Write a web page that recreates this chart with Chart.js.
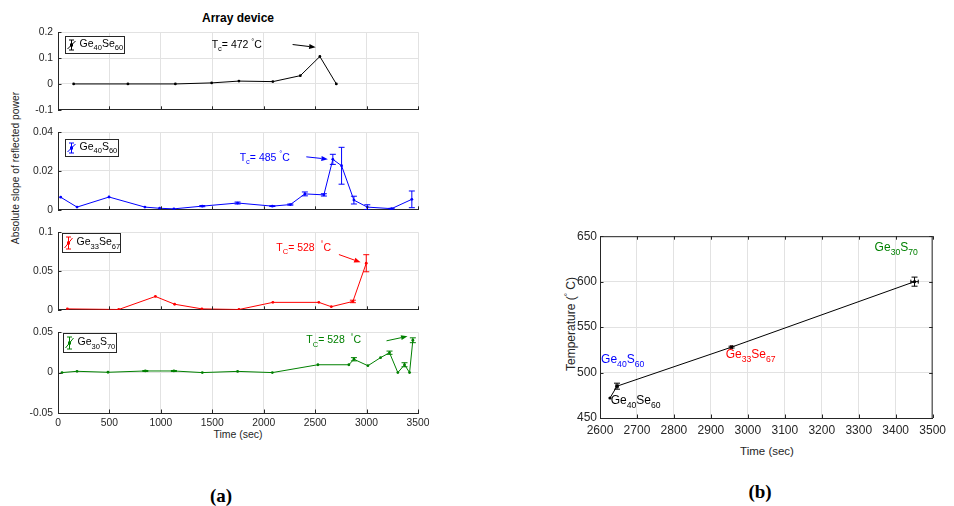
<!DOCTYPE html>
<html>
<head>
<meta charset="utf-8">
<script src="https://cdn.jsdelivr.net/npm/chart.js@4.4.0/dist/chart.umd.min.js"></script>
<style>
  body { margin: 0; background: #fff; width: 954px; height: 506px; position: relative; overflow: hidden;
         font-family: "Liberation Sans", Arial, Helvetica, sans-serif; color: #262626; }
  canvas { position: absolute; }
  .lbl { position: absolute; white-space: nowrap; transform: translate(-50%, -50%); line-height: 1; }
  .rot { transform: translate(-50%, -50%) rotate(-90deg); }
  .cap { font-family: "Liberation Serif", "DejaVu Serif", serif; font-weight: bold; font-size: 19px; color: #000; }
  sup { font-size: 70%; vertical-align: 0.45em; line-height: 0; }
</style>
</head>
<body>
<div class="lbl" style="left:238px;top:18px;font-size:12px;font-weight:bold;color:#000">Array device</div>
<div class="lbl rot" style="left:16px;top:168px;font-size:10.3px">Absolute slope of reflected power</div>
<div class="lbl" style="left:238px;top:434px;font-size:10.5px">Time (sec)</div>
<div class="lbl" style="left:767px;top:452px;font-size:11.5px">Time (sec)</div>
<div class="lbl rot" style="left:571px;top:324px;font-size:12px">Temperature (<sup>°</sup> C)</div>
<div class="lbl cap" style="left:221px;top:495px">(a)</div>
<div class="lbl cap" style="left:760px;top:491px">(b)</div>
<script>
// ---- panel (a): absolute slope of reflected power vs time ----
const geSe4060Time = [152, 680, 1141, 1494, 1759, 2089, 2356, 2546, 2706];
const geSe4060Slope = [0, 0, 0, 0.004, 0.011, 0.009, 0.032, 0.106, 0];
const geSe4060Err = [0, 0, 0, 0, 0, 0, 0, 0, 0];

const geS4060Time = [26, 185, 496, 845, 988, 1127, 1403, 1746, 2084, 2259, 2400, 2585, 2672, 2757, 2877, 3007, 3243, 3440];
const geS4060Slope = [0.0065, 0.0014, 0.0066, 0.0014, 0.0008, 0.0005, 0.0019, 0.0035, 0.0019, 0.0027, 0.0082, 0.0077, 0.026, 0.0227, 0.005, 0.0014, 0.0006, 0.0054];
const geS4060Err = [0, 0, 0, 0, 0, 0, 0.0003, 0.0005, 0.0002, 0.0003, 0.001, 0.0006, 0.0026, 0.0095, 0.002, 0.0012, 0.0002, 0.0043];

const geSe3367Time = [91, 590, 947, 1134, 1399, 1759, 2089, 2536, 2657, 2867, 2997];
const geSe3367Slope = [0.0012, 0.0004, 0.0172, 0.0072, 0.0012, 0.0004, 0.0096, 0.0096, 0.004, 0.0108, 0.06];
const geSe3367Err = [0, 0, 0, 0, 0, 0, 0, 0, 0, 0.0016, 0.011];

const geS3070Time = [39, 185, 486, 849, 1127, 1403, 1746, 2084, 2527, 2828, 2877, 3013, 3136, 3223, 3304, 3369, 3418, 3450];
const geS3070Slope = [0, 0.0016, 0.0004, 0.002, 0.002, 0, 0.0015, 0, 0.0097, 0.0097, 0.0165, 0.0085, 0.0185, 0.0246, 0, 0.0097, 0, 0.04];
const geS3070Err = [0, 0, 0, 0.0006, 0.0006, 0, 0, 0, 0, 0, 0.002, 0, 0, 0.002, 0, 0.0025, 0, 0.003];

const slopeYTicks = [
  { min: -0.1, max: 0.2, step: 0.1 },
  { min: 0, max: 0.04, step: 0.02 },
  { min: 0, max: 0.1, step: 0.05 },
  { min: -0.05, max: 0.05, step: 0.05 },
];

// critical temperature notes: text anchor and arrow in data units
const tcNotes = [
  { text: 'T_{c}= 472 ^{°}C', textAt: [1494, 0.1387], arrowFrom: [2281, 0.1523], arrowTo: [2505, 0.1416] },
  { text: 'T_{c}= 485 ^{°}C', textAt: [1766, 0.0253], arrowFrom: [2414, 0.0273], arrowTo: [2624, 0.0261] },
  { text: 'T_{C}= 528  ^{°}C', textAt: [2122, 0.0759], arrowFrom: [2731, 0.0712], arrowTo: [2942, 0.0612] },
  { text: 'T_{C}= 528  ^{°}C', textAt: [2414, 0.0361], arrowFrom: [3194, 0.0393], arrowTo: [3398, 0.0449] },
];

// ---- panel (b): transition temperature vs time ----
const alloyNames = ['Ge_{40}Se_{60}', 'Ge_{40}S_{60}', 'Ge_{33}Se_{67}', 'Ge_{30}S_{70}'];
const alloyColors = ['#000000', '#0000ff', '#ff0000', '#008000'];
const tcTime = [2627, 2646, 2956, 3451];
const tcTemp = [472, 485, 528, 600];
const tcTempErr = [0, 3.3, 1, 5];
const tcTimeErr = [0, 3, 2, 10];
const alloyLabelAt = [[2629, 465], [2603, 510.8], [2940, 515.6], [3343, 633.8]];

const FONT = '"Liberation Sans", Arial, Helvetica, sans-serif';
const AXIS = '#262626';
const GRID = '#e2e2e2';
Chart.defaults.font.family = FONT;
Chart.defaults.color = AXIS;

const fmt = (v) => String(+Number(v).toFixed(4));
const toPoints = (xs, ys) => xs.map((x, i) => ({ x: x, y: ys[i] }));

function parseTex(str) {
  const parts = [];
  const re = /([_^])\{([^}]*)\}|([^_^]+)/g;
  let m;
  while ((m = re.exec(str))) {
    if (m[1]) parts.push({ t: m[2], mode: m[1] === '_' ? 'sub' : 'sup' });
    else parts.push({ t: m[3], mode: 'base' });
  }
  return parts;
}

function drawTex(ctx, str, x, y, size, color) {
  let cx = x;
  ctx.fillStyle = color;
  ctx.textBaseline = 'alphabetic';
  ctx.textAlign = 'left';
  parseTex(str).forEach((p) => {
    const s = p.mode === 'base' ? size : size * 0.72;
    const dy = p.mode === 'sub' ? size * 0.32 : p.mode === 'sup' ? -size * 0.42 : 0;
    ctx.font = s + 'px ' + FONT;
    ctx.fillText(p.t, cx, y + dy);
    cx += ctx.measureText(p.t).width;
  });
}

function drawArrow(ctx, x1, y1, x2, y2, color) {
  const ang = Math.atan2(y2 - y1, x2 - x1);
  const len = 6.5, half = 2.5;
  ctx.strokeStyle = color;
  ctx.fillStyle = color;
  ctx.lineWidth = 1;
  ctx.beginPath();
  ctx.moveTo(x1, y1);
  ctx.lineTo(x2 - Math.cos(ang) * len, y2 - Math.sin(ang) * len);
  ctx.stroke();
  ctx.beginPath();
  ctx.moveTo(x2, y2);
  ctx.lineTo(x2 - Math.cos(ang) * len - Math.sin(ang) * half, y2 - Math.sin(ang) * len + Math.cos(ang) * half);
  ctx.lineTo(x2 - Math.cos(ang) * len + Math.sin(ang) * half, y2 - Math.sin(ang) * len - Math.cos(ang) * half);
  ctx.closePath();
  ctx.fill();
}

function overlay(p) {
  return {
    id: 'overlay',
    afterDraw(chart) {
      const { ctx, chartArea: a, scales } = chart;
      const xs = scales.x, ys = scales.y;
      ctx.save();
      // error bars
      chart.data.datasets.forEach((ds) => {
        ds.data.forEach((pt, i) => {
          const px = xs.getPixelForValue(pt.x), py = ys.getPixelForValue(pt.y);
          ctx.strokeStyle = ds.errColor;
          ctx.lineWidth = 1;
          const ye = ds.yErr ? ds.yErr[i] : 0;
          if (ye > 0) {
            const t = ys.getPixelForValue(pt.y + ye), b = ys.getPixelForValue(pt.y - ye);
            ctx.beginPath();
            ctx.moveTo(px, t); ctx.lineTo(px, b);
            ctx.moveTo(px - 3, t); ctx.lineTo(px + 3, t);
            ctx.moveTo(px - 3, b); ctx.lineTo(px + 3, b);
            ctx.stroke();
          }
          const xe = ds.xErr ? ds.xErr[i] : 0;
          if (xe > 0) {
            const l = xs.getPixelForValue(pt.x - xe), r = xs.getPixelForValue(pt.x + xe);
            ctx.beginPath();
            ctx.moveTo(l, py); ctx.lineTo(r, py);
            ctx.moveTo(l, py - 2); ctx.lineTo(l, py + 2);
            ctx.moveTo(r, py - 2); ctx.lineTo(r, py + 2);
            ctx.stroke();
          }
        });
      });
      // inward tick marks
      const tl = 3.5;
      ctx.strokeStyle = AXIS;
      ctx.lineWidth = 1;
      ctx.beginPath();
      xs.ticks.forEach((t) => {
        const px = Math.round(xs.getPixelForValue(t.value)) + 0.5;
        ctx.moveTo(px, a.bottom); ctx.lineTo(px, a.bottom - tl);
        if (p.box) { ctx.moveTo(px, a.top); ctx.lineTo(px, a.top + tl); }
      });
      ys.ticks.forEach((t) => {
        const py = Math.round(ys.getPixelForValue(t.value)) + 0.5;
        ctx.moveTo(a.left, py); ctx.lineTo(a.left + tl, py);
        if (p.box) { ctx.moveTo(a.right, py); ctx.lineTo(a.right - tl, py); }
      });
      ctx.stroke();
      if (p.box) {
        ctx.beginPath();
        ctx.moveTo(a.left, a.top + 0.5); ctx.lineTo(a.right, a.top + 0.5);
        ctx.moveTo(a.right - 0.5, a.top); ctx.lineTo(a.right - 0.5, a.bottom);
        ctx.stroke();
      }
      // text notes and arrows
      (p.notes || []).forEach((n) => {
        if (n.arrowFrom) {
          drawArrow(ctx, xs.getPixelForValue(n.arrowFrom[0]), ys.getPixelForValue(n.arrowFrom[1]),
            xs.getPixelForValue(n.arrowTo[0]), ys.getPixelForValue(n.arrowTo[1]), n.color);
        }
        drawTex(ctx, n.text, xs.getPixelForValue(n.textAt[0]), ys.getPixelForValue(n.textAt[1]), n.size, n.color);
      });
      // legend box
      if (p.legend) {
        const L = p.legend;
        const bx = Math.round(a.left + L.dx) + 0.5, by = Math.round(a.top + L.dy) + 0.5;
        ctx.fillStyle = '#fff';
        ctx.fillRect(bx, by, L.w, L.h);
        ctx.strokeStyle = AXIS;
        ctx.strokeRect(bx, by, L.w, L.h);
        const ix = bx + 6, top = by + 3.5, bot = by + L.h - 3.5, mid = by + L.h / 2;
        ctx.strokeStyle = L.color;
        ctx.beginPath();
        ctx.moveTo(ix, top); ctx.lineTo(ix, bot);
        ctx.moveTo(ix - 2.5, top); ctx.lineTo(ix + 2.5, top);
        ctx.moveTo(ix - 2.5, bot); ctx.lineTo(ix + 2.5, bot);
        ctx.moveTo(ix - 4, bot - 1); ctx.lineTo(ix + 4, top + 1);
        ctx.stroke();
        ctx.fillStyle = L.color;
        ctx.fillRect(ix - 1.5, mid - 1.5, 3, 3);
        drawTex(ctx, L.text, bx + 14, by + L.h * 0.62, 10.5, '#000');
      }
      ctx.restore();
    },
  };
}

function makePanel(p) {
  const aw = p.area.right - p.area.left, ah = p.area.bottom - p.area.top;
  const w = p.yWidth + aw + p.padRight;
  const h = p.padTop + ah + p.xHeight;
  const canvas = document.createElement('canvas');
  canvas.width = w; canvas.height = h;
  canvas.style.width = w + 'px'; canvas.style.height = h + 'px';
  canvas.style.left = (p.area.left - p.yWidth) + 'px';
  canvas.style.top = (p.area.top - p.padTop) + 'px';
  document.body.appendChild(canvas);

  new Chart(canvas, {
    type: 'scatter',
    data: { datasets: p.datasets },
    options: {
      responsive: false,
      animation: false,
      devicePixelRatio: 1,
      layout: { padding: { top: p.padTop, right: p.padRight, left: 0, bottom: 0 } },
      plugins: { legend: { display: false }, tooltip: { enabled: false } },
      scales: {
        x: {
          type: 'linear', min: p.x.min, max: p.x.max,
          ticks: { stepSize: p.x.step, display: p.showX, padding: p.xPad, maxRotation: 0, autoSkip: false,
                   font: { size: p.tickSize }, color: AXIS, callback: fmt },
          grid: { color: GRID, drawTicks: false },
          border: { color: AXIS, width: 1 },
          afterFit: (s) => { s.height = p.xHeight; },
        },
        y: {
          type: 'linear', min: p.y.min, max: p.y.max,
          ticks: { stepSize: p.y.step, padding: p.yPad, autoSkip: false,
                   font: { size: p.tickSize }, color: AXIS, callback: fmt },
          grid: { color: GRID, drawTicks: false },
          border: { color: AXIS, width: 1 },
          afterFit: (s) => { s.width = p.yWidth; },
        },
      },
    },
    plugins: [overlay(p)],
  });
}

const slopeSeries = [
  { name: 'Ge_{40}Se_{60}', color: '#000000', t: geSe4060Time, v: geSe4060Slope, e: geSe4060Err },
  { name: 'Ge_{40}S_{60}', color: '#0000ff', t: geS4060Time, v: geS4060Slope, e: geS4060Err },
  { name: 'Ge_{33}Se_{67}', color: '#ff0000', t: geSe3367Time, v: geSe3367Slope, e: geSe3367Err },
  { name: 'Ge_{30}S_{70}', color: '#008000', t: geS3070Time, v: geS3070Slope, e: geS3070Err },
];
const panelTops = [29, 129, 229, 329];
const legendBoxes = [
  { dx: 7, dy: 4, w: 59, h: 17 },
  { dx: 7, dy: 7, w: 53, h: 17 },
  { dx: 4, dy: 1, w: 58, h: 19 },
  { dx: 5, dy: 1, w: 53, h: 19 },
];

slopeSeries.forEach((s, k) => {
  const last = k === slopeSeries.length - 1;
  makePanel({
    area: { left: 58, right: 418, top: panelTops[k], bottom: panelTops[k] + 84 },
    yWidth: 58, padRight: 22, padTop: 8, xHeight: last ? 22 : 8,
    showX: last, xPad: 4, yPad: 5, tickSize: 10.3,
    x: { min: 0, max: 3500, step: 500 },
    y: slopeYTicks[k],
    datasets: [{
      data: toPoints(s.t, s.v), yErr: s.e, errColor: s.color,
      showLine: true, borderColor: s.color, borderWidth: 1,
      pointRadius: 1.4, pointBackgroundColor: s.color, pointBorderWidth: 0,
    }],
    notes: [Object.assign({ color: s.color, size: 10.5 }, tcNotes[k])],
    legend: Object.assign({ text: s.name, color: s.color }, legendBoxes[k]),
  });
});

makePanel({
  area: { left: 600, right: 935, top: 236, bottom: 418 },
  yWidth: 44, padRight: 16, padTop: 10, xHeight: 22,
  showX: true, xPad: 5, yPad: 3, tickSize: 12,
  box: true,
  x: { min: 2600, max: 3500, step: 100 },
  y: { min: 450, max: 650, step: 50 },
  datasets: [{
    data: toPoints(tcTime, tcTemp), yErr: tcTempErr, xErr: tcTimeErr, errColor: '#000',
    showLine: true, borderColor: '#000', borderWidth: 1,
    pointRadius: 1.6, pointBackgroundColor: ['#000', '#000', '#ff0000', '#000'], pointBorderWidth: 0,
  }],
  notes: alloyNames.map((n, i) => ({ text: n, textAt: alloyLabelAt[i], color: alloyColors[i], size: 12 })),
});
</script>
</body>
</html>
